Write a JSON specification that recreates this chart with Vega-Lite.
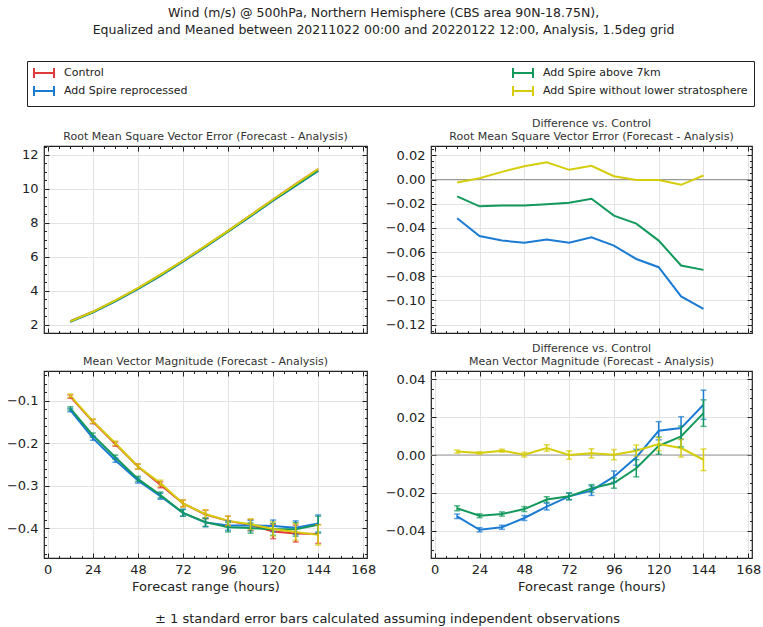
{
  "$schema": "https://vega.github.io/schema/vega-lite/v6.json",
  "background": "white",
  "padding": {"left": 5, "top": 7, "right": 5, "bottom": 5},
  "title": {
    "text": ["Wind (m/s) @ 500hPa, Northern Hemisphere (CBS area 90N-18.75N),", "Equalized and Meaned between 20211022 00:00 and 20220122 12:00, Analysis, 1.5deg grid"],
    "fontSize": 12.5, "fontWeight": "normal", "color": "#222", "lineHeight": 17, "anchor": "middle", "frame": "bounds", "offset": 24
  },
  "datasets": {
    "d": [
      {"s": "Control", "t": 12, "rms": 2.20, "rmsd": 0, "m": -0.090, "mse": 0.004, "md": 0, "mdse": 0},
      {"s": "Control", "t": 24, "rms": 2.76, "rmsd": 0, "m": -0.149, "mse": 0.005, "md": 0, "mdse": 0},
      {"s": "Control", "t": 36, "rms": 3.42, "rmsd": 0, "m": -0.202, "mse": 0.005, "md": 0, "mdse": 0},
      {"s": "Control", "t": 48, "rms": 4.14, "rmsd": 0, "m": -0.255, "mse": 0.006, "md": 0, "mdse": 0},
      {"s": "Control", "t": 60, "rms": 4.93, "rmsd": 0, "m": -0.298, "mse": 0.007, "md": 0, "mdse": 0},
      {"s": "Control", "t": 72, "rms": 5.76, "rmsd": 0, "m": -0.342, "mse": 0.008, "md": 0, "mdse": 0},
      {"s": "Control", "t": 84, "rms": 6.63, "rmsd": 0, "m": -0.368, "mse": 0.010, "md": 0, "mdse": 0},
      {"s": "Control", "t": 96, "rms": 7.53, "rmsd": 0, "m": -0.383, "mse": 0.011, "md": 0, "mdse": 0},
      {"s": "Control", "t": 108, "rms": 8.45, "rmsd": 0, "m": -0.393, "mse": 0.013, "md": 0, "mdse": 0},
      {"s": "Control", "t": 120, "rms": 9.38, "rmsd": 0, "m": -0.408, "mse": 0.017, "md": 0, "mdse": 0},
      {"s": "Control", "t": 132, "rms": 10.28, "rmsd": 0, "m": -0.413, "mse": 0.020, "md": 0, "mdse": 0},
      {"s": "Control", "t": 144, "rms": 11.17, "rmsd": 0, "m": -0.414, "mse": 0.022, "md": 0, "mdse": 0},
      {"s": "Add Spire reprocessed", "t": 12, "rms": 2.168, "rmsd": -0.0321, "m": -0.122, "mse": 0.004, "md": -0.0323, "mdse": 0.0012},
      {"s": "Add Spire reprocessed", "t": 24, "rms": 2.713, "rmsd": -0.0467, "m": -0.188, "mse": 0.005, "md": -0.0394, "mdse": 0.0011},
      {"s": "Add Spire reprocessed", "t": 36, "rms": 3.370, "rmsd": -0.0505, "m": -0.240, "mse": 0.005, "md": -0.0381, "mdse": 0.0011},
      {"s": "Add Spire reprocessed", "t": 48, "rms": 4.088, "rmsd": -0.0522, "m": -0.288, "mse": 0.006, "md": -0.0332, "mdse": 0.0013},
      {"s": "Add Spire reprocessed", "t": 60, "rms": 4.880, "rmsd": -0.0497, "m": -0.325, "mse": 0.007, "md": -0.0272, "mdse": 0.0018},
      {"s": "Add Spire reprocessed", "t": 72, "rms": 5.708, "rmsd": -0.0522, "m": -0.364, "mse": 0.008, "md": -0.0218, "mdse": 0.0018},
      {"s": "Add Spire reprocessed", "t": 84, "rms": 6.582, "rmsd": -0.0478, "m": -0.387, "mse": 0.010, "md": -0.0188, "mdse": 0.0025},
      {"s": "Add Spire reprocessed", "t": 96, "rms": 7.475, "rmsd": -0.0547, "m": -0.394, "mse": 0.011, "md": -0.0114, "mdse": 0.0030},
      {"s": "Add Spire reprocessed", "t": 108, "rms": 8.384, "rmsd": -0.0657, "m": -0.394, "mse": 0.012, "md": -0.0012, "mdse": 0.0042},
      {"s": "Add Spire reprocessed", "t": 120, "rms": 9.308, "rmsd": -0.0725, "m": -0.395, "mse": 0.014, "md": 0.0128, "mdse": 0.0048},
      {"s": "Add Spire reprocessed", "t": 132, "rms": 10.183, "rmsd": -0.0967, "m": -0.399, "mse": 0.016, "md": 0.0142, "mdse": 0.0060},
      {"s": "Add Spire reprocessed", "t": 144, "rms": 11.063, "rmsd": -0.1069, "m": -0.389, "mse": 0.020, "md": 0.0265, "mdse": 0.0077},
      {"s": "Add Spire above 7km", "t": 12, "rms": 2.186, "rmsd": -0.0140, "m": -0.118, "mse": 0.004, "md": -0.0281, "mdse": 0.0013},
      {"s": "Add Spire above 7km", "t": 24, "rms": 2.738, "rmsd": -0.0222, "m": -0.181, "mse": 0.005, "md": -0.0320, "mdse": 0.0010},
      {"s": "Add Spire above 7km", "t": 36, "rms": 3.399, "rmsd": -0.0214, "m": -0.233, "mse": 0.005, "md": -0.0311, "mdse": 0.0011},
      {"s": "Add Spire above 7km", "t": 48, "rms": 4.119, "rmsd": -0.0214, "m": -0.284, "mse": 0.006, "md": -0.0285, "mdse": 0.0013},
      {"s": "Add Spire above 7km", "t": 60, "rms": 4.910, "rmsd": -0.0205, "m": -0.322, "mse": 0.007, "md": -0.0235, "mdse": 0.0015},
      {"s": "Add Spire above 7km", "t": 72, "rms": 5.741, "rmsd": -0.0192, "m": -0.364, "mse": 0.008, "md": -0.0218, "mdse": 0.0017},
      {"s": "Add Spire above 7km", "t": 84, "rms": 6.614, "rmsd": -0.0159, "m": -0.386, "mse": 0.010, "md": -0.0176, "mdse": 0.0020},
      {"s": "Add Spire above 7km", "t": 96, "rms": 7.500, "rmsd": -0.0299, "m": -0.398, "mse": 0.011, "md": -0.0148, "mdse": 0.0027},
      {"s": "Add Spire above 7km", "t": 108, "rms": 8.414, "rmsd": -0.0365, "m": -0.400, "mse": 0.012, "md": -0.0070, "mdse": 0.0045},
      {"s": "Add Spire above 7km", "t": 120, "rms": 9.330, "rmsd": -0.0505, "m": -0.403, "mse": 0.014, "md": 0.0049, "mdse": 0.0045},
      {"s": "Add Spire above 7km", "t": 132, "rms": 10.209, "rmsd": -0.0711, "m": -0.403, "mse": 0.016, "md": 0.0098, "mdse": 0.0055},
      {"s": "Add Spire above 7km", "t": 144, "rms": 11.095, "rmsd": -0.0747, "m": -0.392, "mse": 0.020, "md": 0.0221, "mdse": 0.0070},
      {"s": "Add Spire without lower stratosphere", "t": 12, "rms": 2.198, "rmsd": -0.0025, "m": -0.088, "mse": 0.004, "md": 0.0018, "mdse": 0.0008},
      {"s": "Add Spire without lower stratosphere", "t": 24, "rms": 2.761, "rmsd": 0.0010, "m": -0.148, "mse": 0.005, "md": 0.0011, "mdse": 0.0006},
      {"s": "Add Spire without lower stratosphere", "t": 36, "rms": 3.426, "rmsd": 0.0063, "m": -0.200, "mse": 0.005, "md": 0.0023, "mdse": 0.0008},
      {"s": "Add Spire without lower stratosphere", "t": 48, "rms": 4.151, "rmsd": 0.0110, "m": -0.255, "mse": 0.006, "md": 0.0002, "mdse": 0.0012},
      {"s": "Add Spire without lower stratosphere", "t": 60, "rms": 4.944, "rmsd": 0.0143, "m": -0.294, "mse": 0.007, "md": 0.0037, "mdse": 0.0017},
      {"s": "Add Spire without lower stratosphere", "t": 72, "rms": 5.768, "rmsd": 0.0080, "m": -0.342, "mse": 0.008, "md": 0.0000, "mdse": 0.0022},
      {"s": "Add Spire without lower stratosphere", "t": 84, "rms": 6.641, "rmsd": 0.0113, "m": -0.367, "mse": 0.010, "md": 0.0009, "mdse": 0.0024},
      {"s": "Add Spire without lower stratosphere", "t": 96, "rms": 7.533, "rmsd": 0.0027, "m": -0.383, "mse": 0.011, "md": 0.0002, "mdse": 0.0027},
      {"s": "Add Spire without lower stratosphere", "t": 108, "rms": 8.450, "rmsd": -0.0005, "m": -0.391, "mse": 0.013, "md": 0.0023, "mdse": 0.0030},
      {"s": "Add Spire without lower stratosphere", "t": 120, "rms": 9.380, "rmsd": -0.0005, "m": -0.402, "mse": 0.017, "md": 0.0058, "mdse": 0.0035},
      {"s": "Add Spire without lower stratosphere", "t": 132, "rms": 10.276, "rmsd": -0.0044, "m": -0.409, "mse": 0.020, "md": 0.0037, "mdse": 0.0048},
      {"s": "Add Spire without lower stratosphere", "t": 144, "rms": 11.173, "rmsd": 0.0033, "m": -0.416, "mse": 0.024, "md": -0.0025, "mdse": 0.0057}
    ]
  },
  "columns": 2,
  "spacing": {"row": 38, "column": 64},
  "bounds": "flush",
  "align": "all",
  "concat": [
    {
      "width": 323, "height": 187,
      "title": {"text": "Root Mean Square Vector Error (Forecast - Analysis)"},
      "data": {"name": "d"},
      "resolve": {"axis": {"x": "independent", "y": "independent"}},
      "layer": [
        {
          "mark": {"type": "line", "strokeWidth": 2},
          "encoding": {
            "x": {"field": "t", "type": "quantitative", "scale": {"domain": [-2, 170], "nice": false, "zero": false}, "axis": {"orient": "bottom", "values": [0, 24, 48, 72, 96, 120, 144, 168], "labels": false, "grid": true, "tickSize": -5, "title": null}},
            "y": {"field": "rms", "type": "quantitative", "scale": {"domain": [1.51, 12.53], "nice": false, "zero": false}, "axis": {"orient": "left", "values": [2, 4, 6, 8, 10, 12], "format": "d", "grid": true, "tickSize": -5, "labelPadding": 11, "title": null}},
            "color": {"field": "s", "type": "nominal", "scale": {"domain": ["Control", "Add Spire reprocessed", "Add Spire above 7km", "Add Spire without lower stratosphere"], "range": ["#e0393b", "#1b7bd3", "#12995b", "#d5cc0a"]}, "legend": {"orient": "none", "legendX": -17, "legendY": -85, "columns": 2, "columnPadding": 321, "rowPadding": 0, "padding": 6, "symbolType": "M-1,0H3M-1,-1V1M3,-1V1", "symbolSize": 100, "symbolStrokeWidth": 2, "symbolFillColor": "transparent", "labelFontSize": 11, "labelOffset": 19, "labelLimit": 400, "labelColor": "#222", "strokeColor": "#222", "title": null}}
          }
        },
        {
          "mark": {"type": "point", "opacity": 0},
          "encoding": {
            "x": {"field": "t", "type": "quantitative", "axis": {"orient": "top", "values": [0, 24, 48, 72, 96, 120, 144, 168], "labels": false, "grid": false, "tickSize": -5, "title": null}},
            "y": {"field": "rms", "type": "quantitative", "axis": {"orient": "right", "values": [2, 4, 6, 8, 10, 12], "labels": false, "grid": false, "tickSize": -5, "title": null}}
          }
        },
        {
          "mark": {"type": "point", "opacity": 0},
          "encoding": {
            "x": {"field": "t", "type": "quantitative", "axis": {"orient": "bottom", "values": [6, 12, 18, 30, 36, 42, 54, 60, 66, 78, 84, 90, 102, 108, 114, 126, 132, 138, 150, 156, 162], "labels": false, "grid": false, "tickSize": -2.5, "title": null}},
            "y": {"field": "rms", "type": "quantitative", "axis": {"orient": "left", "values": [2.5, 3, 3.5, 4.5, 5, 5.5, 6.5, 7, 7.5, 8.5, 9, 9.5, 10.5, 11, 11.5, 12.5], "labels": false, "grid": false, "tickSize": -2.5, "title": null}}
          }
        },
        {
          "mark": {"type": "point", "opacity": 0},
          "encoding": {
            "x": {"field": "t", "type": "quantitative", "axis": {"orient": "top", "values": [6, 12, 18, 30, 36, 42, 54, 60, 66, 78, 84, 90, 102, 108, 114, 126, 132, 138, 150, 156, 162], "labels": false, "grid": false, "tickSize": -2.5, "title": null}},
            "y": {"field": "rms", "type": "quantitative", "axis": {"orient": "right", "values": [2.5, 3, 3.5, 4.5, 5, 5.5, 6.5, 7, 7.5, 8.5, 9, 9.5, 10.5, 11, 11.5, 12.5], "labels": false, "grid": false, "tickSize": -2.5, "title": null}}
          }
        }
      ]
    },
    {
      "width": 321, "height": 187,
      "title": {"text": ["Difference vs. Control", "Root Mean Square Vector Error (Forecast - Analysis)"]},
      "data": {"name": "d"},
      "transform": [{"filter": "datum.s !== 'Control'"}],
      "resolve": {"axis": {"x": "independent", "y": "independent"}},
      "layer": [
        {
          "data": {"values": [{"z": 0}]},
          "mark": {"type": "rule", "color": "#999999", "strokeWidth": 1.2},
          "encoding": {"y": {"field": "z", "type": "quantitative", "axis": null}}
        },
        {
          "mark": {"type": "line", "strokeWidth": 2},
          "encoding": {
            "x": {"field": "t", "type": "quantitative", "scale": {"domain": [-2, 170], "nice": false, "zero": false}, "axis": {"orient": "bottom", "values": [0, 24, 48, 72, 96, 120, 144, 168], "labels": false, "grid": true, "tickSize": -5, "title": null}},
            "y": {"field": "rmsd", "type": "quantitative", "scale": {"domain": [-0.1269, 0.0277], "nice": false, "zero": false}, "axis": {"orient": "left", "values": [-0.12, -0.1, -0.08, -0.06, -0.04, -0.02, 0, 0.02], "format": ".2f", "grid": true, "tickSize": -5, "labelPadding": 11, "title": null}},
            "color": {"field": "s", "type": "nominal", "scale": {"domain": ["Control", "Add Spire reprocessed", "Add Spire above 7km", "Add Spire without lower stratosphere"], "range": ["#e0393b", "#1b7bd3", "#12995b", "#d5cc0a"]}, "legend": {"orient": "none", "legendX": -17, "legendY": -85, "columns": 2, "columnPadding": 321, "rowPadding": 0, "padding": 6, "symbolType": "M-1,0H3M-1,-1V1M3,-1V1", "symbolSize": 100, "symbolStrokeWidth": 2, "symbolFillColor": "transparent", "labelFontSize": 11, "labelOffset": 19, "labelLimit": 400, "labelColor": "#222", "strokeColor": "#222", "title": null}}
          }
        },
        {
          "mark": {"type": "point", "opacity": 0},
          "encoding": {
            "x": {"field": "t", "type": "quantitative", "axis": {"orient": "top", "values": [0, 24, 48, 72, 96, 120, 144, 168], "labels": false, "grid": false, "tickSize": -5, "title": null}},
            "y": {"field": "rmsd", "type": "quantitative", "axis": {"orient": "right", "values": [-0.12, -0.1, -0.08, -0.06, -0.04, -0.02, 0, 0.02], "labels": false, "grid": false, "tickSize": -5, "title": null}}
          }
        },
        {
          "mark": {"type": "point", "opacity": 0},
          "encoding": {
            "x": {"field": "t", "type": "quantitative", "axis": {"orient": "bottom", "values": [6, 12, 18, 30, 36, 42, 54, 60, 66, 78, 84, 90, 102, 108, 114, 126, 132, 138, 150, 156, 162], "labels": false, "grid": false, "tickSize": -2.5, "title": null}},
            "y": {"field": "rmsd", "type": "quantitative", "axis": {"orient": "left", "values": [-0.125, -0.115, -0.11, -0.105, -0.095, -0.09, -0.085, -0.075, -0.07, -0.065, -0.055, -0.05, -0.045, -0.035, -0.03, -0.025, -0.015, -0.01, -0.005, 0.005, 0.01, 0.015, 0.025], "labels": false, "grid": false, "tickSize": -2.5, "title": null}}
          }
        },
        {
          "mark": {"type": "point", "opacity": 0},
          "encoding": {
            "x": {"field": "t", "type": "quantitative", "axis": {"orient": "top", "values": [6, 12, 18, 30, 36, 42, 54, 60, 66, 78, 84, 90, 102, 108, 114, 126, 132, 138, 150, 156, 162], "labels": false, "grid": false, "tickSize": -2.5, "title": null}},
            "y": {"field": "rmsd", "type": "quantitative", "axis": {"orient": "right", "values": [-0.125, -0.115, -0.11, -0.105, -0.095, -0.09, -0.085, -0.075, -0.07, -0.065, -0.055, -0.05, -0.045, -0.035, -0.03, -0.025, -0.015, -0.01, -0.005, 0.005, 0.01, 0.015, 0.025], "labels": false, "grid": false, "tickSize": -2.5, "title": null}}
          }
        }
      ]
    },
    {
      "width": 323, "height": 187,
      "title": {"text": "Mean Vector Magnitude (Forecast - Analysis)"},
      "data": {"name": "d"},
      "resolve": {"axis": {"x": "independent", "y": "independent"}},
      "layer": [
        {
          "mark": {"type": "line", "strokeWidth": 2},
          "encoding": {
            "x": {"field": "t", "type": "quantitative", "scale": {"domain": [-2, 170], "nice": false, "zero": false}, "axis": {"orient": "bottom", "values": [0, 24, 48, 72, 96, 120, 144, 168], "labels": true, "grid": true, "tickSize": -5, "labelPadding": 10, "title": "Forecast range (hours)", "titlePadding": 4}},
            "y": {"field": "m", "type": "quantitative", "scale": {"domain": [-0.4705, -0.0298], "nice": false, "zero": false}, "axis": {"orient": "left", "values": [-0.4, -0.3, -0.2, -0.1], "format": ".1f", "grid": true, "tickSize": -5, "labelPadding": 11, "title": null}},
            "color": {"field": "s", "type": "nominal", "scale": {"domain": ["Control", "Add Spire reprocessed", "Add Spire above 7km", "Add Spire without lower stratosphere"], "range": ["#e0393b", "#1b7bd3", "#12995b", "#d5cc0a"]}, "legend": {"orient": "none", "legendX": -17, "legendY": -85, "columns": 2, "columnPadding": 321, "rowPadding": 0, "padding": 6, "symbolType": "M-1,0H3M-1,-1V1M3,-1V1", "symbolSize": 100, "symbolStrokeWidth": 2, "symbolFillColor": "transparent", "labelFontSize": 11, "labelOffset": 19, "labelLimit": 400, "labelColor": "#222", "strokeColor": "#222", "title": null}}
          }
        },
        {
          "mark": {"type": "errorbar", "ticks": {"size": 6}, "thickness": 1.5},
          "encoding": {
            "x": {"field": "t", "type": "quantitative", "axis": null},
            "y": {"field": "m", "type": "quantitative", "axis": null},
            "yError": {"field": "mse"},
            "color": {"field": "s", "type": "nominal", "legend": null}
          }
        },
        {
          "mark": {"type": "point", "opacity": 0},
          "encoding": {
            "x": {"field": "t", "type": "quantitative", "axis": {"orient": "top", "values": [0, 24, 48, 72, 96, 120, 144, 168], "labels": false, "grid": false, "tickSize": -5, "title": null}},
            "y": {"field": "m", "type": "quantitative", "axis": {"orient": "right", "values": [-0.4, -0.3, -0.2, -0.1], "labels": false, "grid": false, "tickSize": -5, "title": null}}
          }
        },
        {
          "mark": {"type": "point", "opacity": 0},
          "encoding": {
            "x": {"field": "t", "type": "quantitative", "axis": {"orient": "bottom", "values": [6, 12, 18, 30, 36, 42, 54, 60, 66, 78, 84, 90, 102, 108, 114, 126, 132, 138, 150, 156, 162], "labels": false, "grid": false, "tickSize": -2.5, "title": null}},
            "y": {"field": "m", "type": "quantitative", "axis": {"orient": "left", "values": [-0.46, -0.44, -0.42, -0.38, -0.36, -0.34, -0.32, -0.28, -0.26, -0.24, -0.22, -0.18, -0.16, -0.14, -0.12, -0.08, -0.06, -0.04], "labels": false, "grid": false, "tickSize": -2.5, "title": null}}
          }
        },
        {
          "mark": {"type": "point", "opacity": 0},
          "encoding": {
            "x": {"field": "t", "type": "quantitative", "axis": {"orient": "top", "values": [6, 12, 18, 30, 36, 42, 54, 60, 66, 78, 84, 90, 102, 108, 114, 126, 132, 138, 150, 156, 162], "labels": false, "grid": false, "tickSize": -2.5, "title": null}},
            "y": {"field": "m", "type": "quantitative", "axis": {"orient": "right", "values": [-0.46, -0.44, -0.42, -0.38, -0.36, -0.34, -0.32, -0.28, -0.26, -0.24, -0.22, -0.18, -0.16, -0.14, -0.12, -0.08, -0.06, -0.04], "labels": false, "grid": false, "tickSize": -2.5, "title": null}}
          }
        }
      ]
    },
    {
      "width": 321, "height": 187,
      "title": {"text": ["Difference vs. Control", "Mean Vector Magnitude (Forecast - Analysis)"]},
      "data": {"name": "d"},
      "transform": [{"filter": "datum.s !== 'Control'"}],
      "resolve": {"axis": {"x": "independent", "y": "independent"}},
      "layer": [
        {
          "data": {"values": [{"z": 0}]},
          "mark": {"type": "rule", "color": "#999999", "strokeWidth": 1.2},
          "encoding": {"y": {"field": "z", "type": "quantitative", "axis": null}}
        },
        {
          "mark": {"type": "line", "strokeWidth": 2},
          "encoding": {
            "x": {"field": "t", "type": "quantitative", "scale": {"domain": [-2, 170], "nice": false, "zero": false}, "axis": {"orient": "bottom", "values": [0, 24, 48, 72, 96, 120, 144, 168], "labels": true, "grid": true, "tickSize": -5, "labelPadding": 10, "title": "Forecast range (hours)", "titlePadding": 4}},
            "y": {"field": "md", "type": "quantitative", "scale": {"domain": [-0.0543, 0.0443], "nice": false, "zero": false}, "axis": {"orient": "left", "values": [-0.04, -0.02, 0, 0.02, 0.04], "format": ".2f", "grid": true, "tickSize": -5, "labelPadding": 11, "title": null}},
            "color": {"field": "s", "type": "nominal", "scale": {"domain": ["Control", "Add Spire reprocessed", "Add Spire above 7km", "Add Spire without lower stratosphere"], "range": ["#e0393b", "#1b7bd3", "#12995b", "#d5cc0a"]}, "legend": {"orient": "none", "legendX": -17, "legendY": -85, "columns": 2, "columnPadding": 321, "rowPadding": 0, "padding": 6, "symbolType": "M-1,0H3M-1,-1V1M3,-1V1", "symbolSize": 100, "symbolStrokeWidth": 2, "symbolFillColor": "transparent", "labelFontSize": 11, "labelOffset": 19, "labelLimit": 400, "labelColor": "#222", "strokeColor": "#222", "title": null}}
          }
        },
        {
          "mark": {"type": "errorbar", "ticks": {"size": 6}, "thickness": 1.5},
          "encoding": {
            "x": {"field": "t", "type": "quantitative", "axis": null},
            "y": {"field": "md", "type": "quantitative", "axis": null},
            "yError": {"field": "mdse"},
            "color": {"field": "s", "type": "nominal", "legend": null}
          }
        },
        {
          "mark": {"type": "point", "opacity": 0},
          "encoding": {
            "x": {"field": "t", "type": "quantitative", "axis": {"orient": "top", "values": [0, 24, 48, 72, 96, 120, 144, 168], "labels": false, "grid": false, "tickSize": -5, "title": null}},
            "y": {"field": "md", "type": "quantitative", "axis": {"orient": "right", "values": [-0.04, -0.02, 0, 0.02, 0.04], "labels": false, "grid": false, "tickSize": -5, "title": null}}
          }
        },
        {
          "mark": {"type": "point", "opacity": 0},
          "encoding": {
            "x": {"field": "t", "type": "quantitative", "axis": {"orient": "bottom", "values": [6, 12, 18, 30, 36, 42, 54, 60, 66, 78, 84, 90, 102, 108, 114, 126, 132, 138, 150, 156, 162], "labels": false, "grid": false, "tickSize": -2.5, "title": null}},
            "y": {"field": "md", "type": "quantitative", "axis": {"orient": "left", "values": [-0.05, -0.045, -0.035, -0.03, -0.025, -0.015, -0.01, -0.005, 0.005, 0.01, 0.015, 0.025, 0.03, 0.035], "labels": false, "grid": false, "tickSize": -2.5, "title": null}}
          }
        },
        {
          "mark": {"type": "point", "opacity": 0},
          "encoding": {
            "x": {"field": "t", "type": "quantitative", "axis": {"orient": "top", "values": [6, 12, 18, 30, 36, 42, 54, 60, 66, 78, 84, 90, 102, 108, 114, 126, 132, 138, 150, 156, 162], "labels": false, "grid": false, "tickSize": -2.5, "title": null}},
            "y": {"field": "md", "type": "quantitative", "axis": {"orient": "right", "values": [-0.05, -0.045, -0.035, -0.03, -0.025, -0.015, -0.01, -0.005, 0.005, 0.01, 0.015, 0.025, 0.03, 0.035], "labels": false, "grid": false, "tickSize": -2.5, "title": null}}
          }
        }
      ]
    },
    {
      "width": 323, "height": 46,
      "view": {"stroke": null},
      "data": {"values": [{"note": "± 1 standard error bars calculated assuming independent observations"}]},
      "mark": {"type": "text", "fontSize": 13, "color": "#222", "dx": 182},
      "encoding": {"text": {"field": "note", "type": "nominal"}}
    }
  ],
  "config": {
    "font": "DejaVu Sans",
    "view": {"stroke": "#222", "strokeWidth": 1.2},
    "axis": {"labelFontSize": 13, "labelColor": "#222", "tickColor": "#222", "gridColor": "#e3e3e3", "domain": false, "titleFontWeight": "normal", "titleFontSize": 13, "titleColor": "#222", "labelFont": "DejaVu Sans", "titleFont": "DejaVu Sans"},
    "title": {"fontSize": 11, "fontWeight": "normal", "color": "#333", "offset": 4, "lineHeight": 13, "font": "DejaVu Sans"},
    "legend": {"labelFont": "DejaVu Sans"}
  }
}
